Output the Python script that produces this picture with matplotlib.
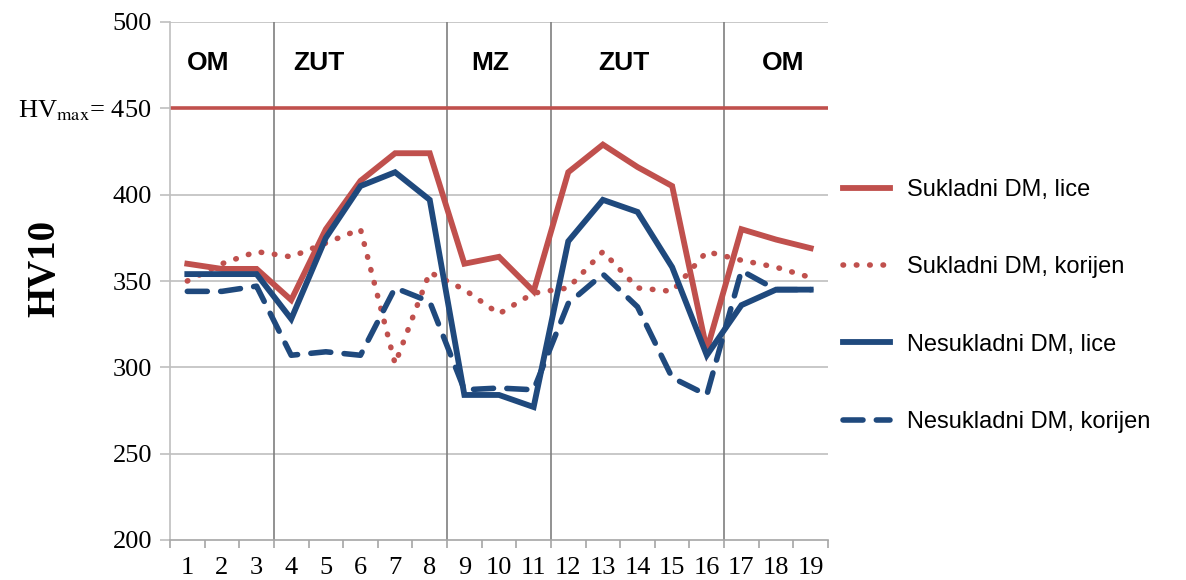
import numpy as np
import matplotlib.pyplot as plt
from matplotlib.ticker import FixedLocator

plt.rcParams['mathtext.fontset'] = 'stix'

# Data
positions = list(range(1, 20))
tick_labels = [str(i) for i in positions]
suk_lice = [360, 357, 357, 339, 380, 408, 424, 424, 360, 364, 344, 413, 429, 416, 405, 310, 380, 374, 369]
suk_korijen = [350, 360, 367, 364, 372, 380, 302, 355, 345, 331, 343, 346, 367, 346, 344, 367, 362, 358, 352]
nes_lice = [354, 354, 354, 328, 375, 405, 413, 397, 284, 284, 277, 373, 397, 390, 358, 307, 336, 345, 345]
nes_korijen = [344, 344, 347, 307, 309, 307, 346, 338, 287, 288, 287, 337, 354, 335, 294, 284, 356, 345, 345]
hv_max = 450
zone_bounds = [3.5, 8.5, 11.5, 16.5]
zone_names = ['OM', 'ZUT', 'MZ', 'ZUT', 'OM']
zone_x = [1.6, 4.8, 9.75, 13.6, 18.2]

red = '#C0504D'
blue = '#1F497D'

fig = plt.figure(figsize=(11.86, 5.8), dpi=100)
ax = fig.add_axes([170/1186, 40/580, (828-170)/1186, (540-22)/580])

ax.set_xlim(0.5, 19.5)
ax.set_ylim(200, 500)

# grid
for y in range(250, 501, 50):
    ax.axhline(y, color='#BFBFBF', lw=1.2, zorder=0)
for b in zone_bounds:
    ax.axvline(b, color='#7F7F7F', lw=1.2, zorder=0)

ax.axhline(hv_max, color=red, lw=2.6, zorder=1)

ax.plot(positions, suk_lice, color=red, lw=4.2, solid_joinstyle='miter', label='Sukladni DM, lice', zorder=3)
ax.plot(positions, suk_korijen, color=red, lw=4.0, linestyle=(0, (0.1, 2.3)), dash_capstyle='round',
        label='Sukladni DM, korijen', zorder=3)
ax.plot(positions, nes_lice, color=blue, lw=4.2, solid_joinstyle='miter', label='Nesukladni DM, lice', zorder=4)
ax.plot(positions, nes_korijen, color=blue, lw=4.0, linestyle=(0, (3.6, 2.4)), dash_capstyle='round',
        label='Nesukladni DM, korijen', zorder=4)

for name, x in zip(zone_names, zone_x):
    ax.text(x, 476, name, ha='center', va='center', fontsize=19, fontweight='bold',
            family='Liberation Sans')

# axes styling
for s in ['top', 'right']:
    ax.spines[s].set_visible(False)
ax.spines['left'].set_color('#BFBFBF')
ax.spines['bottom'].set_color('#A6A6A6')
ax.spines['left'].set_linewidth(1.2)
ax.spines['bottom'].set_linewidth(1.2)

ax.set_xticks(positions)
ax.set_xticklabels(tick_labels, family='Liberation Serif', fontsize=19)
ax.xaxis.set_minor_locator(FixedLocator(np.arange(0.5, 20, 1)))
ax.tick_params(axis='x', which='major', length=0, pad=12)
ax.tick_params(axis='x', which='minor', length=6, color='#A6A6A6', width=1.2)

yt = list(range(200, 501, 50))
ylab = [str(v) for v in yt]
ylab[yt.index(hv_max)] = r'HV$_{\mathrm{max}}$= 450'
ax.set_yticks(yt)
ax.set_yticklabels(ylab, family='Liberation Serif', fontsize=19)
ax.tick_params(axis='y', length=7, color='#BFBFBF', width=1.2, pad=6)

fig.text(45/1186, 1 - 268/580, 'HV10', rotation=90, ha='center', va='center',
         family='Liberation Serif', fontweight='bold', fontsize=28)

fig.legend(loc='center left', bbox_to_anchor=(822/1186, 1 - 306/580), frameon=False,
           prop={'family': 'Liberation Sans', 'size': 17}, handlelength=2.0,
           handletextpad=0.7, labelspacing=2.35)

fig.savefig('out.png', dpi=100)
